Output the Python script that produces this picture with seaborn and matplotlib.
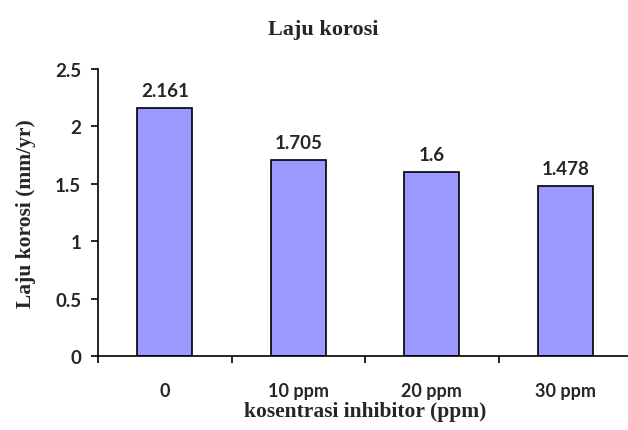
import matplotlib
matplotlib.use("Agg")
import matplotlib.pyplot as plt
import seaborn as sns
import pandas as pd
import numpy as np

categories = ["0", "10 ppm", "20 ppm", "30 ppm"]
values = [2.161, 1.705, 1.6, 1.478]
value_labels = ["2.161", "1.705", "1.6", "1.478"]
yticks = [0, 0.5, 1, 1.5, 2, 2.5]
ytick_labels = ["0", "0.5", "1", "1.5", "2", "2.5"]

sns.set_theme(style="white")
plt.rcParams['font.family'] = ['Lato', 'DejaVu Sans']

df = pd.DataFrame({"kat": categories, "val": values})

fig = plt.figure(figsize=(6.28, 4.31), dpi=100)
ax = fig.add_axes([98/628, 1-357/431, (632-98)/628, (357-70)/431])
sns.barplot(data=df, x="kat", y="val", ax=ax, color="#9999FF", saturation=1,
            edgecolor="black", linewidth=1.2, width=0.41)

ax.set_xlim(-0.5, 3.5)
ax.set_ylim(0, 2.5)
ax.set_yticks(yticks)
ax.set_yticklabels(ytick_labels, fontsize=13.5, fontweight="bold")
ax.set_xticks(range(len(categories)))
ax.set_xticklabels(categories, fontsize=13, fontweight="bold")
ax.tick_params(axis="x", which="major", length=0, pad=19)
ax.set_xticks(np.arange(-0.5, 3.6, 1.0), minor=True)
ax.tick_params(axis="x", which="minor", length=5, width=1.2, direction="out", color="black", bottom=True)
ax.tick_params(axis="y", length=5, width=1.2, direction="out", color="black", left=True, pad=7)

for s in ["top", "right"]:
    ax.spines[s].set_visible(False)
for s in ["left", "bottom"]:
    ax.spines[s].set_color("black")
    ax.spines[s].set_linewidth(1.2)

for i, (v, lab) in enumerate(zip(values, value_labels)):
    ax.text(i, v + 0.08, lab, ha="center", va="bottom", fontsize=13.5, fontweight="bold")

serif = ["Liberation Serif", "DejaVu Serif"]
ax.set_xlabel("kosentrasi inhibitor (ppm)", fontsize=15.5, fontweight="bold", family=serif, labelpad=1)
ax.set_ylabel("Laju korosi (mm/yr)", fontsize=15.5, fontweight="bold", family=serif, labelpad=14)
fig.text(323/628, 1-30/431, "Laju korosi", ha="center", va="center", fontsize=16,
         fontweight="bold", family=serif)

fig.savefig("out.png", dpi=100)
